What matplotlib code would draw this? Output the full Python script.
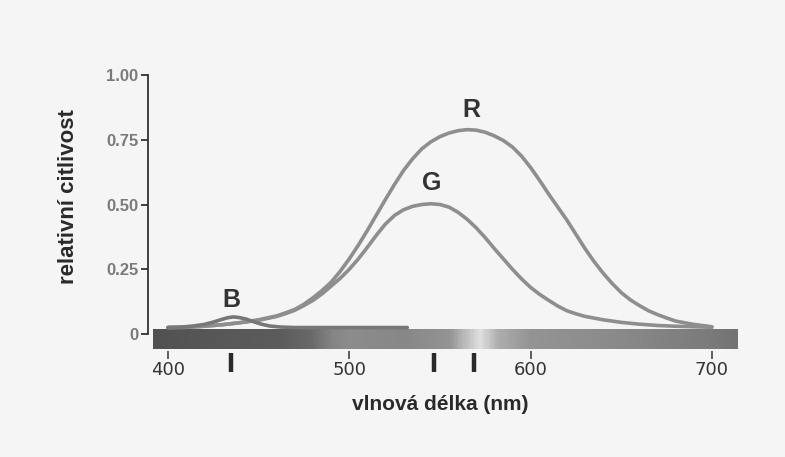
import numpy as np
import matplotlib
matplotlib.use("Agg")
import matplotlib.pyplot as plt
from matplotlib.colors import LinearSegmentedColormap

# ===== data =====
r_wl = [400, 410, 420, 430, 440, 450, 460, 465, 470, 475, 480, 485, 490, 495, 500, 505,
        510, 515, 520, 525, 530, 535, 540, 545, 550, 555, 560, 565, 570, 575, 580, 585,
        590, 595, 600, 605, 610, 615, 620, 625, 630, 635, 640, 645, 650, 655, 660, 665,
        670, 675, 680, 690, 700]
r_vals = [0.025, 0.026, 0.03, 0.036, 0.044, 0.055, 0.07, 0.082, 0.095, 0.115, 0.14, 0.168,
          0.20, 0.242, 0.29, 0.343, 0.40, 0.46, 0.52, 0.578, 0.632, 0.677, 0.715, 0.742,
          0.762, 0.776, 0.785, 0.789, 0.787, 0.779, 0.765, 0.747, 0.722, 0.687, 0.643,
          0.593, 0.54, 0.49, 0.44, 0.385, 0.33, 0.28, 0.235, 0.195, 0.16, 0.132, 0.11,
          0.09, 0.075, 0.062, 0.05, 0.037, 0.028]
g_wl = [400, 410, 420, 430, 440, 450, 460, 465, 470, 475, 480, 485, 490, 495, 500, 505,
        510, 515, 520, 525, 530, 535, 540, 545, 550, 555, 560, 565, 570, 575, 580, 585,
        590, 595, 600, 605, 610, 615, 620, 625, 630, 640, 650, 660, 670, 680, 690, 700]
g_vals = [0.025, 0.026, 0.03, 0.036, 0.044, 0.053, 0.068, 0.079, 0.092, 0.11, 0.13, 0.155,
          0.185, 0.215, 0.25, 0.29, 0.335, 0.382, 0.425, 0.458, 0.48, 0.493, 0.50, 0.503,
          0.50, 0.49, 0.47, 0.443, 0.41, 0.372, 0.33, 0.29, 0.25, 0.213, 0.18, 0.153,
          0.13, 0.108, 0.09, 0.078, 0.068, 0.055, 0.045, 0.038, 0.033, 0.03, 0.028, 0.026]
b_wl = [400, 408, 414, 420, 425, 430, 433, 436, 439, 443, 447, 451, 456, 462, 470, 490, 532]
b_vals = [0.025, 0.027, 0.031, 0.037, 0.046, 0.057, 0.063, 0.066, 0.064, 0.058, 0.048,
          0.039, 0.031, 0.027, 0.025, 0.025, 0.025]

peak_marks = [435, 547, 569]          # short black marks under the spectrum
peak_names = ["B", "G", "R"]
peak_label_pos = [(435, 0.131), (545.5, 0.583), (567.5, 0.865)]

x_ticks = [400, 500, 600, 700]
y_ticks = [0, 0.25, 0.50, 0.75, 1.00]
y_ticklabels = ["0", "0.25", "0.50", "0.75", "1.00"]

# grey spectrum strip (scan of a colour spectrum)
bar_wl = [391.7, 420, 460, 478, 490, 500, 530, 555, 565, 572, 582, 600, 650, 700, 713.8]
bar_gray = [0.32, 0.34, 0.36, 0.41, 0.52, 0.55, 0.53, 0.58, 0.76, 0.88, 0.68, 0.58, 0.54, 0.48, 0.45]

bg = "#f5f5f5"
curve_col = "#8e8e8e"
sans = ["Liberation Sans", "DejaVu Sans"]

fig = plt.figure(figsize=(7.85, 4.57), dpi=100, facecolor=bg)
ax = fig.add_axes([148/785, (457-355)/457, (740-148)/785, 280/457])
ax.set_facecolor(bg)
ax.set_xlim(389, 715.5)
ax.set_ylim(-0.081, 1.0)

# spectrum strip
pos = [(w - bar_wl[0]) / (bar_wl[-1] - bar_wl[0]) for w in bar_wl]
cmap = LinearSegmentedColormap.from_list("spec", [(p, (g, g, g)) for p, g in zip(pos, bar_gray)])
ax.imshow(np.linspace(0, 1, 400).reshape(1, -1), cmap=cmap, aspect="auto",
          extent=[bar_wl[0], bar_wl[-1], -0.058, 0.018], zorder=1, interpolation="bilinear")

# curves
ax.plot(r_wl, r_vals, color=curve_col, lw=2.6, zorder=3, solid_capstyle="round",
        solid_joinstyle="round")
ax.plot(g_wl, g_vals, color=curve_col, lw=2.6, zorder=3, solid_capstyle="round",
        solid_joinstyle="round")
ax.plot(b_wl, b_vals, color="#777777", lw=2.6, zorder=3, solid_capstyle="round",
        solid_joinstyle="round")

for name, (px, py) in zip(peak_names, peak_label_pos):
    ax.text(px, py, name, ha="center", va="center", fontsize=18, fontweight="bold",
            color="#333333", family=sans)

for m in peak_marks:
    ax.plot([m, m], [-0.073, -0.147], color="#2a2a2a", lw=3.2, clip_on=False,
            solid_capstyle="butt")

# axes styling
for s in ["top", "right", "bottom"]:
    ax.spines[s].set_visible(False)
ax.spines["left"].set_color("#333333")
ax.spines["left"].set_linewidth(1.3)
ax.spines["left"].set_bounds(0, 1)

ax.set_yticks(y_ticks)
ax.set_yticklabels(y_ticklabels, fontsize=12, fontweight="bold", color="#7a7a7a",
                   family=sans)
ax.tick_params(axis="y", length=5, width=1.3, color="#333333", pad=2)

ax.set_xticks(x_ticks)
ax.set_xticklabels([str(t) for t in x_ticks], fontsize=13, color="#333333",
                   family=["DejaVu Sans"])
ax.tick_params(axis="x", direction="inout", length=6, width=1.2, color="#444444", pad=1)

fig.text(440/785, 1 - 405/457, "vlnová délka (nm)", ha="center", va="center",
         fontsize=15, fontweight="bold", color="#2a2a2a", family=sans)
fig.text(68/785, 1 - 197/457, "relativní citlivost", ha="center", va="center",
         rotation=90, fontsize=16, fontweight="bold", color="#2a2a2a", family=sans)

fig.savefig("out.png", dpi=100, facecolor=bg)
